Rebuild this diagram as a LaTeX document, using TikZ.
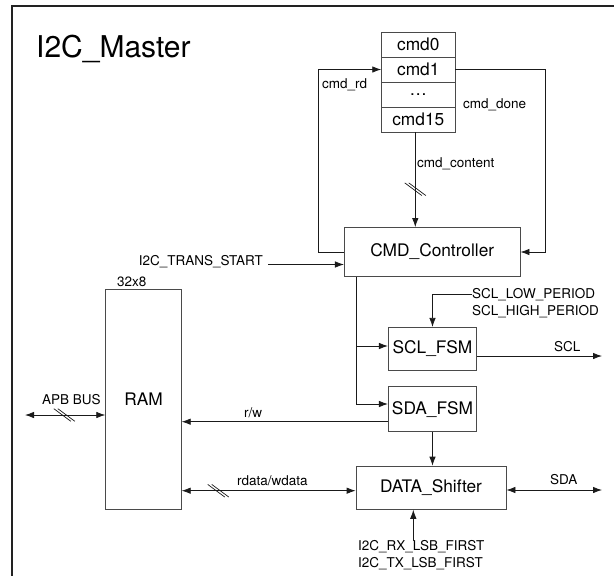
\documentclass[tikz,border=0pt]{standalone}
\usepackage{fontspec}
\setmainfont{TeX Gyre Heros}
\usetikzlibrary{arrows.meta}
\definecolor{linecol}{HTML}{1A1A1A}
\definecolor{boxcol}{HTML}{4A4A4A}
\definecolor{framecol}{HTML}{222222}
\tikzset{
	blockbox/.style={draw=boxcol,line width=0.8pt,inner sep=0pt,font=\fontsize{17.3}{20}\selectfont},
	siglab/.style={inner sep=0pt,font=\fontsize{13.5}{16}\selectfont},
	sigline/.style={draw=linecol,line width=0.8pt,-{Latex[length=9pt,width=6.5pt]}},
	busline/.style={draw=linecol,line width=0.8pt,{Latex[length=9pt,width=6.5pt]}-{Latex[length=9pt,width=6.5pt]}},
	busmark/.pic={\draw[-,linecol,line width=0.7pt] (-10.5,-6.3) -- (6.5,6.3) (-6.5,-6.3) -- (10.5,6.3);}
}
\begin{document}
\begin{tikzpicture}[x=1pt,y=-1pt]
\useasboundingbox (0,0) rectangle (614,576);
\draw[framecol,line width=1.6pt] (614,6) -- (12,6) -- (12,576);
\node[anchor=base west,inner sep=0pt,font=\fontsize{30}{36}\selectfont] (title) at (36,57) {I2C\_Master};

% command stack
\foreach \name [count=\y] in {cmd0,cmd1,\dots,cmd15}{
	\node[blockbox,minimum width=73.3,minimum height=25] (row\y) at (418.3,19.5+25*\y) {\name};
	}

% blocks
\node[blockbox,minimum width=175.7,minimum height=49.7] (ctrl) at (432.2,252) {CMD\_Controller};
\node[blockbox,minimum width=75.6,minimum height=220] (ram) at (143.5,399.3) {RAM};
\node[blockbox,minimum width=88.3,minimum height=43.4] (sclfsm) at (432.5,349) {SCL\_FSM};
\node[blockbox,minimum width=88.3,minimum height=45] (sdafsm) at (432.5,409.2) {SDA\_FSM};
\node[blockbox,minimum width=150,minimum height=43.3] (shifter) at (431,487.7) {DATA\_Shifter};

% labels
\node[siglab,anchor=base west] (sizelab) at (117,286.5) {32x8};
\node[siglab,anchor=base east] (startlab) at (263,265) {I2C\_TRANS\_START};
\node[siglab,anchor=base west] (rdlab) at (322,88) {cmd\_rd};
\node[siglab,anchor=base west] (donelab) at (463,108) {cmd\_done};
\node[siglab,anchor=base west] (contentlab) at (417,167) {cmd\_content};
\node[siglab,anchor=base west] (lowlab) at (472,298.3) {SCL\_LOW\_PERIOD};
\node[siglab,anchor=base west] (highlab) at (472,315.7) {SCL\_HIGH\_PERIOD};
\node[siglab,anchor=base west] (scllab) at (554,351) {SCL};
\node[siglab,anchor=base west] (apblab) at (42,404) {APB BUS};
\node[siglab,anchor=base west] (rwlab) at (244,417.5) {r/w};
\node[siglab,anchor=base west] (datalab) at (237,485) {rdata/wdata};
\node[siglab,anchor=base west] (sdalab) at (550,484) {SDA};
\node[siglab,anchor=base west] (rxlab) at (358,550) {I2C\_RX\_LSB\_FIRST};
\node[siglab,anchor=base west] (txlab) at (358,567.7) {I2C\_TX\_LSB\_FIRST};

% free ends
\coordinate (startpt) at (268,264.5);
\coordinate (apbpt) at (25,415);
\coordinate (sclpt) at (602,356);
\coordinate (sdapt) at (602,490);
\coordinate (lsbpt) at (413.3,541);
\coordinate (rwpt) at (0,421.7);
\coordinate (datapt) at (0,490.7);
\coordinate (branch) at (356.7,404);
\coordinate (sclin) at (0,346);

% connectors
\draw[sigline] (ctrl.west) -- ++(-26,0) |- (row2.west);
\draw[sigline] (row2.east) -- ++(90,0) |- (ctrl.east);
\draw[sigline] ([xshift=-3pt]row4.south) -- ++(0,94.7) pic[pos=.6]{busmark};
\draw[sigline] (startpt) -- (startpt -| ctrl.west);
\draw[sigline] (branch |- ctrl.south) -- (branch) -- (branch -| sdafsm.west);
\draw[sigline] (branch |- sclin) -- (sclin -| sclfsm.west);
\draw[sigline] (lowlab.west) -| (sclfsm.north);
\draw[sigline] (sclpt -| sclfsm.east) -- (sclpt);
\draw[sigline] (sdafsm.west |- rwpt) -- (ram.east |- rwpt);
\draw[sigline] (sdafsm.south) -- (sdafsm.south |- shifter.north);
\draw[busline] (apbpt) -- (apbpt -| ram.west) pic[pos=.49]{busmark};
\draw[busline] (ram.east |- datapt) -- (shifter.west |- datapt) pic[pos=.21]{busmark};
\draw[busline] (shifter.east |- sdapt) -- (sdapt);
\draw[sigline] (lsbpt) -- (lsbpt |- shifter.south);
\end{tikzpicture}
\end{document}
